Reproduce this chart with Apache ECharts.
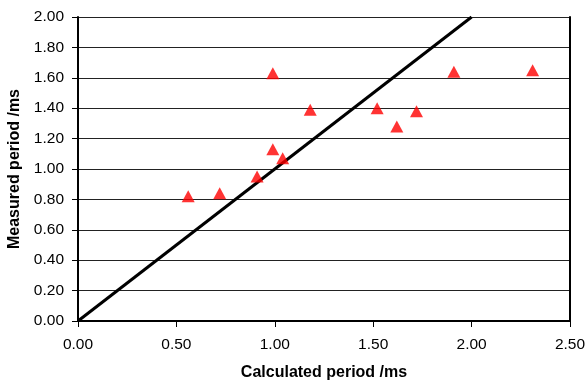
<!DOCTYPE html>
<html>
<head>
<meta charset="utf-8">
<script src="https://cdn.jsdelivr.net/npm/echarts@6/dist/echarts.min.js"></script>
<style>
  html, body { margin: 0; padding: 0; background: #fff; }
  #chart { width: 586px; height: 381px; }
</style>
</head>
<body>
<div id="chart"></div>
<script>
// measured vs calculated period
const calculated = [0.56, 0.72, 0.91, 0.99, 1.04, 0.99, 1.18, 1.52, 1.62, 1.72, 1.91, 2.31];
const measured = [0.82, 0.84, 0.95, 1.13, 1.07, 1.63, 1.39, 1.40, 1.28, 1.38, 1.64, 1.65];
// y = x reference line
const lineX = [0, 2];
const lineY = [0, 2];

const font = "'Liberation Sans', Arial, sans-serif";

const chart = echarts.init(document.getElementById("chart"), null, { renderer: "canvas" });
chart.setOption({
  animation: false,
  backgroundColor: "#fff",
  grid: { left: 78, right: 16, top: 17, bottom: 60, containLabel: false, outerBoundsMode: "none" },
  xAxis: {
    type: "value",
    min: 0,
    max: 2.5,
    interval: 0.5,
    name: "Calculated period /ms",
    nameLocation: "middle",
    nameGap: 44,
    nameTextStyle: { color: "#000", fontFamily: font, fontSize: 16, fontWeight: "bold" },
    axisLine: { onZero: false, lineStyle: { color: "#000", width: 2 } },
    axisTick: { show: true, length: 6, lineStyle: { color: "#000", width: 1 } },
    axisLabel: {
      color: "#000", fontFamily: font, fontSize: 15.5, margin: 16,
      formatter: (v) => v.toFixed(2)
    },
    splitLine: { show: false }
  },
  yAxis: [
    {
      type: "value",
      min: 0,
      max: 2,
      interval: 0.2,
      name: "Measured period /ms",
      nameLocation: "middle",
      nameGap: 51,
      nameRotate: 90,
      nameTextStyle: { color: "#000", fontFamily: font, fontSize: 16, fontWeight: "bold" },
      axisLine: { show: true, onZero: false, lineStyle: { color: "#000", width: 2 } },
      axisTick: { show: true, length: 6, lineStyle: { color: "#000", width: 1 } },
      axisLabel: {
        color: "#000", fontFamily: font, fontSize: 15.5, margin: 14,
        formatter: (v) => v.toFixed(2)
      },
      splitLine: { show: true, lineStyle: { color: "#222", width: 1 } }
    },
    {
      type: "value",
      position: "right",
      min: 0,
      max: 2,
      interval: 0.2,
      axisLine: { show: true, onZero: false, lineStyle: { color: "#000", width: 2 } },
      axisTick: { show: false },
      axisLabel: { show: false },
      splitLine: { show: false }
    }
  ],
  series: [
    {
      type: "line",
      data: lineX.map((x, i) => [x, lineY[i]]),
      showSymbol: false,
      symbol: "none",
      lineStyle: { color: "#000", width: 3 },
      z: 3
    },
    {
      type: "scatter",
      data: calculated.map((x, i) => [x, measured[i]]),
      symbol: "triangle",
      symbolSize: [13, 12],
      itemStyle: { color: "#ff0000" },
      z: 4
    }
  ]
});
</script>
</body>
</html>
